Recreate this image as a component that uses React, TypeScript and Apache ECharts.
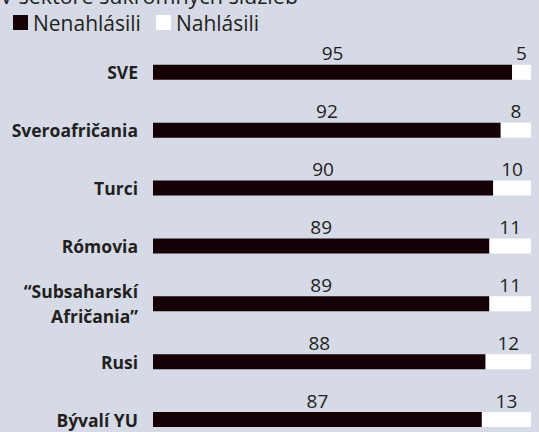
import React, { useEffect, useRef } from "react";
import * as echarts from "echarts";

const categories = [
  "SVE",
  "Sveroafričania",
  "Turci",
  "Rómovia",
  "“Subsaharskí\nAfričania”",
  "Rusi",
  "Bývalí YU",
];
const notReported = [95, 92, 90, 89, 89, 88, 87];
const reported = [5, 8, 10, 11, 11, 12, 13];
const seriesNames = ["Nenahlásili", "Nahlásili"];
const title = "V sektore súkromných služieb";

const FONT = "'Open Sans', 'Noto Sans', sans-serif";
const TEXT = "#231f20";

export default function App() {
  const ref = useRef<HTMLDivElement>(null);
  useEffect(() => {
    const chart = echarts.init(ref.current!, null, { renderer: "svg" });
    const valueLabel = {
      show: true,
      position: "top",
      distance: 2,
      color: TEXT,
      fontSize: 19,
      fontFamily: FONT,
    };
    chart.setOption({
      animation: false,
      backgroundColor: "#d6dae6",
      textStyle: { fontFamily: FONT },
      graphic: [
        {
          type: "text",
          left: 0,
          top: -16,
          style: { text: title, fill: TEXT, font: `21.5px ${FONT}` },
        },
      ],
      legend: {
        left: 13,
        top: 12,
        padding: 0,
        icon: "rect",
        itemWidth: 15,
        itemHeight: 15,
        itemGap: 15,
        textStyle: { fontSize: 21, color: TEXT, fontFamily: FONT, padding: [0, 0, 0, 0] },
        data: seriesNames,
      },
      grid: { left: 153, right: 8, top: 72.3, bottom: 10, containLabel: false },
      xAxis: { type: "value", min: 0, max: 100, show: false },
      yAxis: {
        type: "category",
        inverse: true,
        boundaryGap: false,
        data: categories,
        axisLine: { show: false },
        axisTick: { show: false },
        splitLine: { show: false },
        axisLabel: {
          margin: 15,
          fontSize: 17.5,
          fontWeight: "bold",
          color: TEXT,
          fontFamily: FONT,
          lineHeight: 25,
          align: "right",
        },
      },
      series: [
        {
          name: seriesNames[0],
          type: "bar",
          stack: "s",
          barWidth: 15,
          data: notReported,
          itemStyle: { color: "#140005" },
          label: valueLabel,
        },
        {
          name: seriesNames[1],
          type: "bar",
          stack: "s",
          barWidth: 15,
          data: reported,
          itemStyle: { color: "#ffffff" },
          label: valueLabel,
        },
      ],
    });
    return () => chart.dispose();
  }, []);
  return <div ref={ref} style={{ width: 539, height: 432, position: "absolute", left: 0, top: 0 }} />;
}
